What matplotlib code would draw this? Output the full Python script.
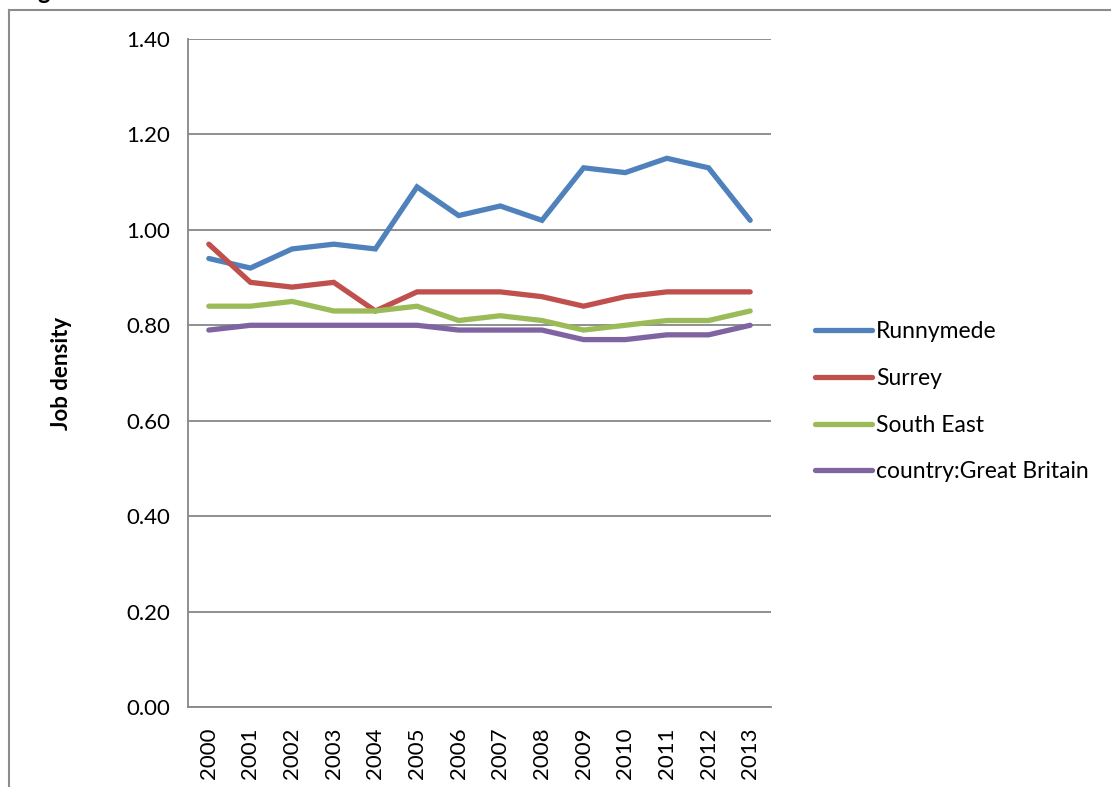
import matplotlib
matplotlib.use("Agg")
import matplotlib.pyplot as plt
from matplotlib.lines import Line2D

years = ["2000", "2001", "2002", "2003", "2004", "2005", "2006",
         "2007", "2008", "2009", "2010", "2011", "2012", "2013"]
runnymede = [0.94, 0.92, 0.96, 0.97, 0.96, 1.09, 1.03, 1.05, 1.02, 1.13, 1.12, 1.15, 1.13, 1.02]
surrey = [0.97, 0.89, 0.88, 0.89, 0.83, 0.87, 0.87, 0.87, 0.86, 0.84, 0.86, 0.87, 0.87, 0.87]
south_east = [0.84, 0.84, 0.85, 0.83, 0.83, 0.84, 0.81, 0.82, 0.81, 0.79, 0.80, 0.81, 0.81, 0.83]
great_britain = [0.79, 0.80, 0.80, 0.80, 0.80, 0.80, 0.79, 0.79, 0.79, 0.77, 0.77, 0.78, 0.78, 0.80]
series_names = ["Runnymede", "Surrey", "South East", "country:Great Britain"]
colors = ["#4F81BD", "#C0504D", "#9BBB59", "#8064A2"]

plt.rcParams['font.family'] = ['Lato', 'DejaVu Sans']

W, H = 1111, 787
fig = plt.figure(figsize=(W / 100, H / 100), dpi=100)

# chart frame (cropped Excel border)
fig.add_artist(Line2D([9 / W, 9 / W], [0, 1 - 10 / H], color="#8c8c8c", lw=1.5))
fig.add_artist(Line2D([9 / W, 1], [1 - 10 / H, 1 - 10 / H], color="#8c8c8c", lw=1.5))
# cropped title, only the descender of the "g" shows
fig.text(37 / W, 1 + 1 / H, "g", fontsize=17, fontweight="bold", va="baseline")

x0, x1, y0, y1 = 188, 771, 39, 707
ax = fig.add_axes([x0 / W, 1 - y1 / H, (x1 - x0) / W, (y1 - y0) / H])

x = list(range(len(years)))
for vals, c, name in zip([runnymede, surrey, south_east, great_britain], colors, series_names):
    ax.plot(x, vals, color=c, lw=3.8, label=name, solid_capstyle="round", solid_joinstyle="miter")

ax.set_xlim(-0.5, len(years) - 0.5)
ax.set_ylim(0, 1.4)
ax.set_yticks([0, 0.2, 0.4, 0.6, 0.8, 1.0, 1.2, 1.4])
ax.set_yticklabels([f"{v:.2f}" for v in [0, 0.2, 0.4, 0.6, 0.8, 1.0, 1.2, 1.4]])
ax.set_xticks(x)
ax.set_xticklabels(years, rotation=90)
ax.tick_params(length=0, labelsize=16, colors="black")
ax.tick_params(axis="y", pad=13)
ax.tick_params(axis="x", pad=15)
ax.grid(axis="y", color="#878787", lw=1.3)
ax.set_axisbelow(True)
for s in ["top", "right"]:
    ax.spines[s].set_visible(False)
for s in ["left", "bottom"]:
    ax.spines[s].set_color("#878787")
    ax.spines[s].set_linewidth(1.3)

fig.text(62 / W, 1 - 373 / H, "Job density", rotation=90, fontsize=16, fontweight="bold",
         ha="center", va="center")

leg = ax.legend(loc="center left", bbox_to_anchor=((806 - x0) / (x1 - x0), (707 - 402) / (y1 - y0)),
                frameon=False, fontsize=16.5, handlelength=2.5, handletextpad=0.15,
                labelspacing=1.12, borderaxespad=0)

fig.savefig("out.png", dpi=100)
